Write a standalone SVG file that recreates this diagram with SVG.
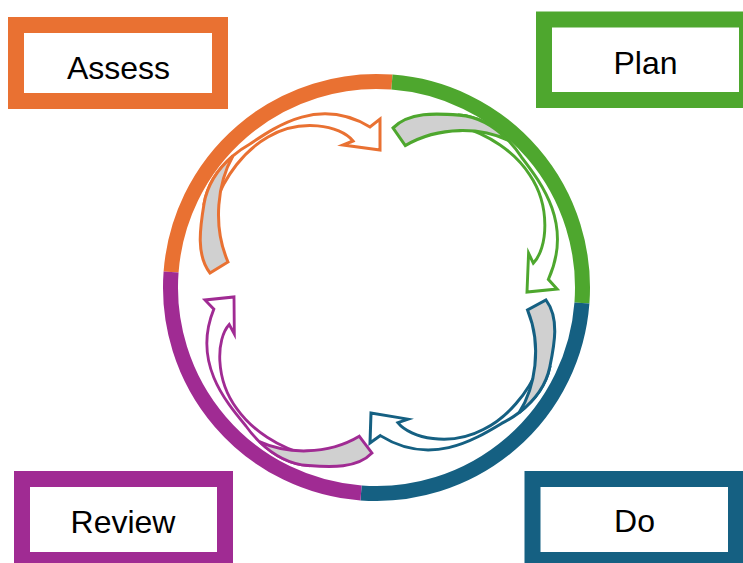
<svg xmlns="http://www.w3.org/2000/svg" width="743" height="563" viewBox="0 0 743 563">
<style>
.box{fill:#fff;stroke-width:16}
.lbl{font-family:"Liberation Sans",Arial,sans-serif;font-size:32px;fill:#000;text-anchor:middle}
.ring{fill:none;stroke-width:15;stroke-linecap:butt}
.body{fill:#fff;stroke-width:3}
.back{fill:#d0d0d0;stroke-width:3}
</style>
<defs>
<path id="arrowBody" d="M 204,204 C 207,186 217.56,169.13 232.9,155.9 C 238,151.5 243.75,147.5 250,144 C 278,125 320,97 370,127 L 380,119 L 380,150 L 343,145 L 353,141 C 340,125 300,118 268,137 C 245,150 225,175 214,206 Z"/>
<path id="arrowBack" d="M 210,273 C 196,255 200,228 204,204 C 207,186 217.56,169.13 232.9,155.9 C 218,182 212,225 228,262 Z"/>
</defs>
<rect width="743" height="563" fill="#fff"/>
<g id="connectors">
<path class="ring" stroke="#E97132" d="M 171.08,272.05 A 206 206 0 0 1 391.95,82.08"/>
<path class="ring" stroke="#4EA72E" d="M 391.95,82.08 A 206 206 0 0 1 581.92,302.95"/>
<path class="ring" stroke="#156082" d="M 581.92,302.95 A 206 206 0 0 1 361.05,492.92"/>
<path class="ring" stroke="#A02B93" d="M 361.05,492.92 A 206 206 0 0 1 171.08,272.05"/>
<g id="arrow-assess" stroke="#E97132">
<use href="#arrowBody" class="body"/>
<use href="#arrowBack" class="back"/>
</g>
<g id="arrow-plan" stroke="#4EA72E" transform="matrix(0.08805,1.03473,-0.96774,0.09677,638.70,-115.72)">
<use href="#arrowBody" class="body"/>
<use href="#arrowBack" class="back"/>
</g>
<g id="arrow-do" stroke="#156082" transform="matrix(-1.00607,-0.03548,0.032258,-0.96774,748.47,571.64)">
<use href="#arrowBody" class="body"/>
<use href="#arrowBack" class="back"/>
</g>
<g id="arrow-review" stroke="#A02B93" transform="matrix(-0.13491,-0.98767,0.93548,-0.09677,144.95,686.83)">
<use href="#arrowBody" class="body"/>
<use href="#arrowBack" class="back"/>
</g>
</g>
<g id="node-assess">
<rect class="box" stroke="#E97132" x="16" y="25" width="204" height="76"/>
<text class="lbl" x="118.5" y="79">Assess</text>
</g>
<g id="node-plan">
<rect class="box" stroke="#4EA72E" x="544" y="19.5" width="203" height="80.5"/>
<text class="lbl" x="645.5" y="74">Plan</text>
</g>
<g id="node-review">
<rect class="box" stroke="#A02B93" x="22" y="479" width="203" height="81"/>
<text class="lbl" x="123" y="533">Review</text>
</g>
<g id="node-do">
<rect class="box" stroke="#156082" x="532.5" y="479" width="203.5" height="81"/>
<text class="lbl" x="634.5" y="532">Do</text>
</g>
</svg>
